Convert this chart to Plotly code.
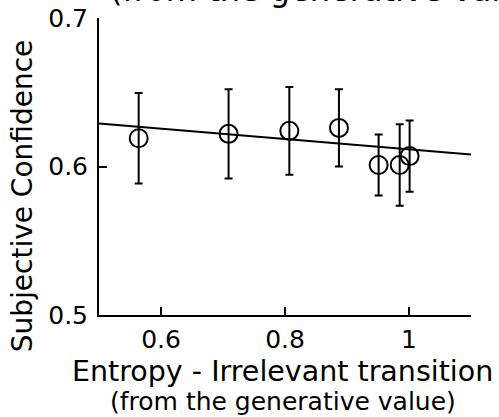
import plotly.graph_objects as go

# Data
entropy = [0.564, 0.709, 0.807, 0.887, 0.951, 0.985, 1.001]
confidence = [0.619, 0.622, 0.624, 0.626, 0.601, 0.601, 0.607]
conf_err = [0.0305, 0.030, 0.0295, 0.026, 0.0205, 0.0275, 0.024]

fit_x = [0.5, 1.1]
fit_y = [0.629, 0.608]

x_tickvals = [0.6, 0.8, 1.0]
x_ticktext = ["0.6", "0.8", "1"]
y_tickvals = [0.5, 0.6, 0.7]
y_ticktext = ["0.5", "0.6", "0.7"]

FONT = "DejaVu Sans"

fig = go.Figure()
fig.add_trace(go.Scatter(x=fit_x, y=fit_y, mode="lines",
                         line=dict(color="black", width=2), showlegend=False,
                         hoverinfo="skip"))
fig.add_trace(go.Scatter(
    x=entropy, y=confidence, mode="markers",
    marker=dict(symbol="circle", size=18, color="rgba(0,0,0,0)",
                line=dict(color="black", width=2)),
    error_y=dict(type="data", array=conf_err, visible=True,
                 color="black", thickness=2, width=4),
    showlegend=False))

axis_common = dict(showgrid=False, zeroline=False, showline=True, linecolor="black",
                   linewidth=2, ticks="inside", ticklen=8, tickwidth=2,
                   tickcolor="black", tickfont=dict(size=25, family=FONT),
                   automargin=False)

fig.update_layout(
    width=499, height=417,
    margin=dict(l=99, r=28, t=18, b=102, autoexpand=False),
    plot_bgcolor="white", paper_bgcolor="white",
    font=dict(family=FONT, color="black"),
    xaxis=dict(range=[0.5, 1.1], tickvals=x_tickvals, ticktext=x_ticktext,
               ticklabelstandoff=1, **axis_common),
    yaxis=dict(range=[0.5, 0.7], tickvals=y_tickvals, ticktext=y_ticktext,
               ticklabelstandoff=4, **axis_common),
    annotations=[
        dict(text="Entropy - Irrelevant transition", xref="paper", yref="paper",
             x=(282.5 - 99) / 372, y=0, xanchor="center", yanchor="top", yshift=-37.6,
             showarrow=False, font=dict(size=28.5, family=FONT)),
        dict(text="(from the generative value)", xref="paper", yref="paper",
             x=(282.5 - 99) / 372, y=0, xanchor="center", yanchor="top", yshift=-70,
             showarrow=False, font=dict(size=25, family=FONT)),
        dict(text="Subjective Confidence", xref="paper", yref="paper",
             x=-0.2035, y=0.4007, xanchor="center", yanchor="middle",
             textangle=-90, showarrow=False, font=dict(size=28, family=FONT)),
        dict(text="(from the generative value)", xref="paper", yref="paper",
             x=(108 - 99) / 372, y=1, xanchor="left", yanchor="bottom", yshift=7,
             showarrow=False, font=dict(size=32, family=FONT)),
    ],
)

fig.write_html("out.html")
